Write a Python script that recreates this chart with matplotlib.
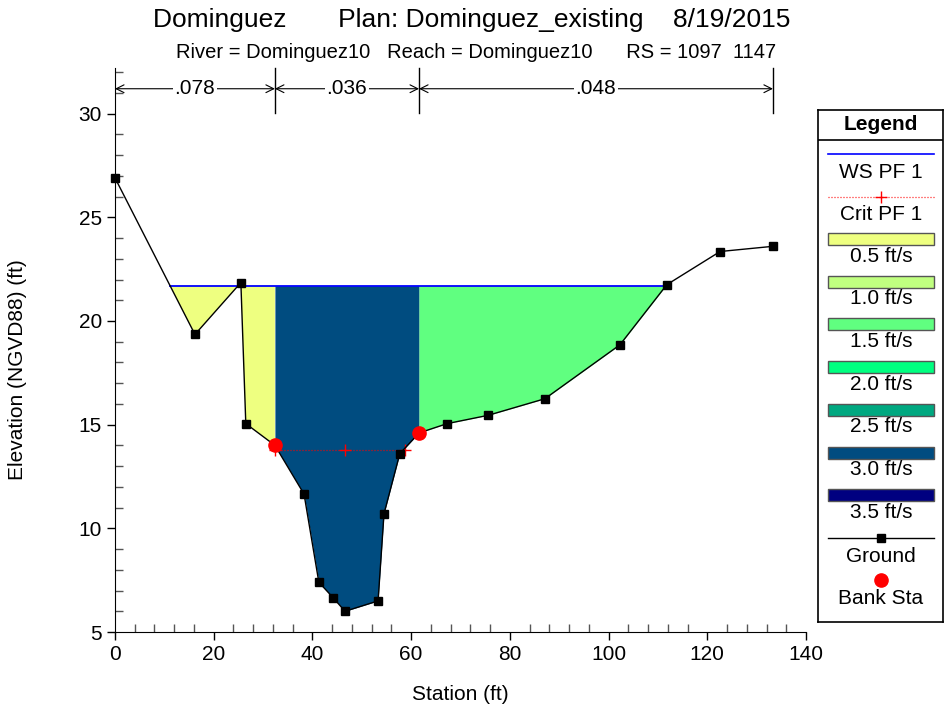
import numpy as np
import matplotlib
matplotlib.use('Agg')
import matplotlib.pyplot as plt
from matplotlib.patches import Rectangle
from matplotlib.ticker import MultipleLocator

plt.rcParams['font.family'] = ['Liberation Sans', 'DejaVu Sans']

# ground profile
sta = [0, 16.2, 25.5, 26.5, 32.4, 38.3, 41.3, 44.2, 46.6, 53.3, 54.5, 57.7,
       61.6, 67.3, 75.6, 87.1, 102.3, 111.8, 122.6, 133.3]
elev = [26.9, 19.35, 21.85, 15.05, 14.0, 11.65, 7.4, 6.65, 6.0, 6.5, 10.7,
        13.6, 14.6, 15.05, 15.45, 16.25, 18.85, 21.75, 23.35, 23.6]
ws = 21.7
crit = 13.8
crit_sta = [32.4, 46.6, 58.7]
bank_sta = [32.4, 61.6]
bank_elev = [14.0, 14.6]
n_sta = [0, 32.4, 61.6, 133.3]
n_vals = ['.078', '.036', '.048']

vel_labels = ['0.5 ft/s', '1.0 ft/s', '1.5 ft/s', '2.0 ft/s', '2.5 ft/s', '3.0 ft/s', '3.5 ft/s']
vel_colors = ['#EEFF80', '#C0FF80', '#60FF80', '#00FF80', '#00A880', '#004C80', '#000080']
# velocity class of each subsection (LOB, channel, ROB)
sub_vel = [0, 5, 2]

FS = 15

fig = plt.figure(figsize=(9.45, 7.1), dpi=100)
ax = fig.add_axes([115/945, 1-632/710, (806-115)/945, (632-68)/710])

x = np.array(sta)
y = np.array(elev)
# index ranges of the subsections
bounds = [(0, 5), (4, 13), (12, 20)]
for (i0, i1), v in zip(bounds, sub_vel):
    xs, ys = x[i0:i1], y[i0:i1]
    ax.fill_between(xs, ys, ws, where=ys <= ws, interpolate=True,
                    color=vel_colors[v], linewidth=0, zorder=1)

# water surface, only where wet
wx = []
for i in range(len(x)-1):
    if (y[i]-ws)*(y[i+1]-ws) < 0:
        wx.append(x[i] + (ws-y[i])*(x[i+1]-x[i])/(y[i+1]-y[i]))
ax.plot([wx[0], wx[-1]], [ws, ws], color='blue', lw=1.3, zorder=3)

ax.plot(crit_sta, [crit]*len(crit_sta), color='red', ls=(0, (0.8, 1.6)), lw=0.9,
        marker='+', ms=8, mew=1, zorder=4)
ax.plot(sta, elev, color='black', lw=1, marker='s', ms=5.5, zorder=5, clip_on=False)
ax.plot(bank_sta, bank_elev, 'o', color='red', ms=9.5, mec='red', zorder=6)

# n-values band
ny = 31.2
for s in n_sta[1:]:
    ax.plot([s, s], [30.05, 32.2], color='black', lw=1, zorder=2, clip_on=False)
for i, t in enumerate(n_vals):
    ax.annotate('', xy=(n_sta[i], ny), xytext=(n_sta[i+1], ny),
                arrowprops=dict(arrowstyle='<->', lw=0.8, color='black',
                                shrinkA=0, shrinkB=0, mutation_scale=14))
    ax.text((n_sta[i]+n_sta[i+1])/2, ny, t, ha='center', va='center', fontsize=FS,
            bbox=dict(facecolor='white', edgecolor='none', pad=1))

ax.set_xlim(0, 140)
ax.set_ylim(5, 32.2)
ax.spines['top'].set_visible(False)
ax.spines['right'].set_visible(False)
ax.xaxis.set_major_locator(MultipleLocator(20))
ax.xaxis.set_minor_locator(MultipleLocator(4))
ax.yaxis.set_major_locator(MultipleLocator(5))
ax.yaxis.set_minor_locator(MultipleLocator(1))
ax.tick_params(which='major', direction='out', length=6, width=1, labelsize=FS)
ax.tick_params(which='minor', direction='in', length=6, width=1, color='#555555')
ax.set_yticks([5, 10, 15, 20, 25, 30])

fig.text(472/945, 1-20/710, 'Dominguez       Plan: Dominguez_existing    8/19/2015',
         ha='center', va='center', fontsize=19)
fig.text(476/945, 1-52/710, 'River = Dominguez10   Reach = Dominguez10      RS = 1097  1147',
         ha='center', va='center', fontsize=14.5)
fig.text(460/945, 1-694/710, 'Station (ft)', ha='center', va='center', fontsize=FS)
fig.text(18/945, 1-370/710, 'Elevation (NGVD88) (ft)', ha='center', va='center',
         fontsize=FS, rotation=90)

# legend panel
lg = fig.add_axes([818/945, 1-622/710, 125/945, (622-110)/710])
lg.set_xlim(818, 943)
lg.set_ylim(622, 110)
lg.set_xticks([])
lg.set_yticks([])
for sp in lg.spines.values():
    sp.set_linewidth(1.2)
lg.plot([818, 943], [140, 140], color='black', lw=1.2)
lg.text(881, 125, 'Legend', ha='center', va='center', fontsize=FS, fontweight='bold')
lx = [828, 934]
lg.plot(lx, [154, 154], color='blue', lw=1.2)
lg.text(881, 172, 'WS PF 1', ha='center', va='center', fontsize=FS)
lg.plot(lx, [197, 197], color='red', ls=(0, (0.8, 1.6)), lw=0.9)
lg.plot([881], [197], '+', color='red', ms=8, mew=1)
lg.text(881, 214, 'Crit PF 1', ha='center', va='center', fontsize=FS)
for k, (lab, col) in enumerate(zip(vel_labels, vel_colors)):
    top = 233 + k*42.7
    lg.add_patch(Rectangle((828, top), 106, 12, facecolor=col, edgecolor='#555555', lw=1))
    lg.text(881, top+23, lab, ha='center', va='center', fontsize=FS)
lg.plot(lx, [538, 538], color='black', lw=1)
lg.plot([881], [538], 's', color='black', ms=5.5)
lg.text(881, 556, 'Ground', ha='center', va='center', fontsize=FS)
lg.plot([881], [580], 'o', color='red', ms=9.5)
lg.text(881, 599, 'Bank Sta', ha='center', va='center', fontsize=FS)

fig.savefig('out.png', dpi=100)
